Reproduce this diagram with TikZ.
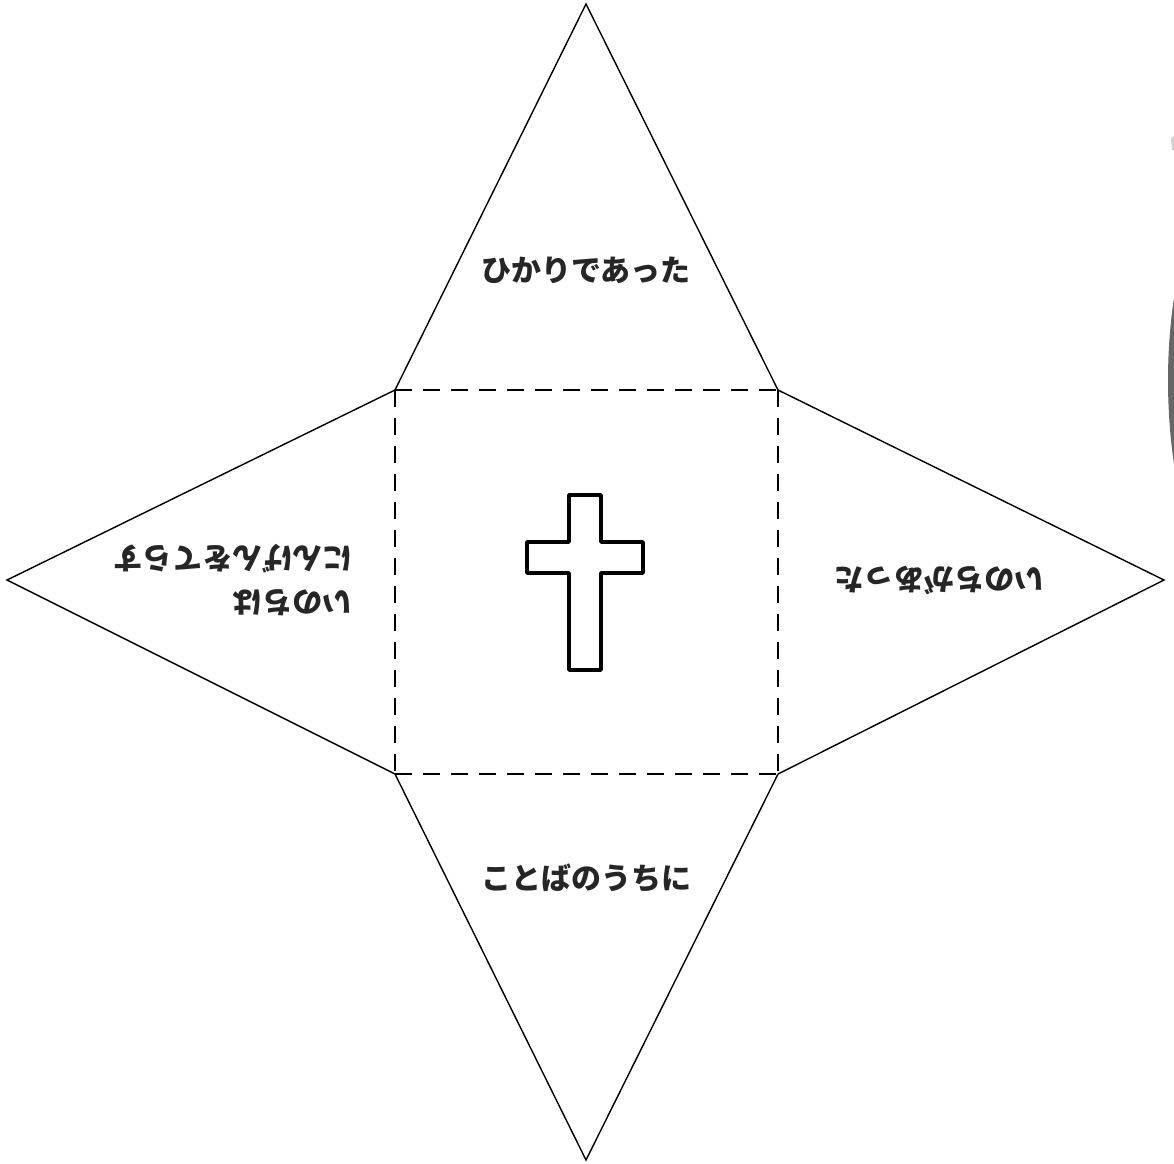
\documentclass[tikz,border=0pt]{standalone}
\usepackage{fontspec}
\newfontfamily\jp{Noto Sans CJK JP}
\begin{document}
\begin{tikzpicture}[x=1pt,y=-1pt,
  edge/.style={line width=1.4pt,black},
  fold/.style={line width=1.8pt,dash pattern=on 17pt off 11pt},
  crossline/.style={line width=3.6pt,line join=round},
  label/.style={font=\jp\bfseries\fontsize{30}{44}\selectfont,inner sep=0pt,align=left,text=black!85}]
\useasboundingbox (0,0) rectangle (1174,1163);
% square corners
\coordinate (tl) at (395,390);
\coordinate (tr) at (778,390);
\coordinate (br) at (778,774);
\coordinate (bl) at (395,774);
% apexes
\coordinate (top) at (586,4);
\coordinate (bot) at (586,1160);
\coordinate (lft) at (7,580);
\coordinate (rgt) at (1164,580);
% triangles
\draw[edge,line join=miter] (tl) -- (top) -- (tr);
\draw[edge] (tr) -- (rgt) -- (br);
\draw[edge] (br) -- (bot) -- (bl);
\draw[edge] (bl) -- (lft) -- (tl);
% dashed fold square
\draw[fold] (tl) -- (tr);
\draw[fold] (tr) -- (br);
\draw[fold] (bl) -- (br);
\draw[fold] (tl) -- (bl);
% cross
\draw[crossline] (569,495) -- (601,495) -- (601,542) -- (643,542) -- (643,573) -- (601,573)
  -- (601,670) -- (569,670) -- (569,573) -- (527,573) -- (527,542) -- (569,542) -- cycle;
% texts
\node[label] (ttop) at (586,270) {ひかりであった};
\node[label] (tbot) at (586,878) {ことばのうちに};
\node[label,rotate=180] (trgt) at (939,580) {いのちがあった};
\node[label,rotate=180] (tlft) at (233,580) {いのちは\\にんげんをてらす};
% gray artefact at right edge
\fill[black!60] (1174,298) .. controls (1166,350) and (1166,410) .. (1174,464) -- cycle;
\fill[gray!35] (1174,136) -- (1171,138) -- (1172,150) -- (1174,150) -- cycle;
\end{tikzpicture}
\end{document}
